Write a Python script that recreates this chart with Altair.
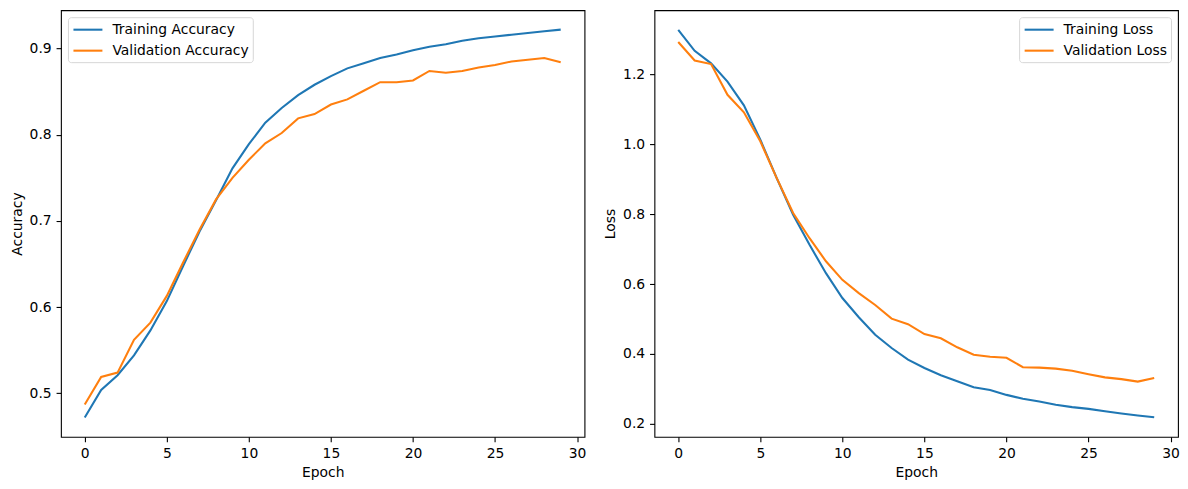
import altair as alt
import pandas as pd

FONT = "DejaVu Sans"

epochs = list(range(30))

train_acc = [0.472, 0.504, 0.521, 0.544, 0.573, 0.607, 0.648, 0.688, 0.724, 0.761,
             0.789, 0.814, 0.831, 0.846, 0.858, 0.868, 0.877, 0.883, 0.889, 0.893,
             0.898, 0.902, 0.905, 0.909, 0.912, 0.914, 0.916, 0.918, 0.920, 0.922]
val_acc = [0.487, 0.519, 0.524, 0.562, 0.582, 0.613, 0.652, 0.690, 0.725, 0.750,
           0.771, 0.790, 0.802, 0.819, 0.824, 0.835, 0.841, 0.851, 0.861, 0.861,
           0.863, 0.874, 0.872, 0.874, 0.878, 0.881, 0.885, 0.887, 0.889, 0.884]
train_loss = [1.327, 1.267, 1.231, 1.179, 1.111, 1.013, 0.903, 0.798, 0.712, 0.631,
              0.560, 0.505, 0.455, 0.417, 0.384, 0.360, 0.339, 0.322, 0.305, 0.297,
              0.283, 0.272, 0.264, 0.255, 0.248, 0.243, 0.236, 0.230, 0.224, 0.219]
val_loss = [1.292, 1.239, 1.229, 1.141, 1.091, 1.008, 0.903, 0.803, 0.731, 0.665,
            0.612, 0.574, 0.540, 0.501, 0.485, 0.457, 0.445, 0.419, 0.398, 0.392,
            0.389, 0.362, 0.361, 0.358, 0.352, 0.342, 0.333, 0.328, 0.321, 0.331]

acc_names = ["Training Accuracy", "Validation Accuracy"]
loss_names = ["Training Loss", "Validation Loss"]
colors = ["#1f77b4", "#ff7f0e"]
x_ticks = [0, 5, 10, 15, 20, 25, 30]
acc_ticks = [0.5, 0.6, 0.7, 0.8, 0.9]
loss_ticks = [0.2, 0.4, 0.6, 0.8, 1.0, 1.2]

acc_df = pd.DataFrame({
    "Epoch": epochs * 2,
    "value": train_acc + val_acc,
    "series": [acc_names[0]] * 30 + [acc_names[1]] * 30,
})
loss_df = pd.DataFrame({
    "Epoch": epochs * 2,
    "value": train_loss + val_loss,
    "series": [loss_names[0]] * 30 + [loss_names[1]] * 30,
})

# line symbol ~29px long drawn in a 14px legend slot
LINE_SYMBOL = "M-2.07,0H2.07"


def panel(df, ydomain, ytitle, names, yticks, orient):
    return alt.Chart(df).mark_line(strokeWidth=2.08).encode(
        x=alt.X("Epoch:Q",
                scale=alt.Scale(domain=[-1.45, 30.45], nice=False, zero=False),
                axis=alt.Axis(title="Epoch", values=x_ticks, format="d")),
        y=alt.Y("value:Q",
                scale=alt.Scale(domain=ydomain, nice=False, zero=False),
                axis=alt.Axis(title=ytitle, values=yticks, format=".1f")),
        color=alt.Color("series:N",
                        scale=alt.Scale(domain=names, range=colors),
                        legend=alt.Legend(
                            title=None, orient=orient, offset=7, padding=4,
                            fillColor="white", strokeColor="#d6d6d6",
                            cornerRadius=3, symbolType=LINE_SYMBOL,
                            symbolSize=196, symbolStrokeWidth=2.08,
                            symbolOffset=7.5,
                            labelFont=FONT, labelFontSize=13.9,
                            labelColor="black", labelOffset=16,
                            rowPadding=5, labelLimit=0)),
    ).properties(width=524, height=427)


left = panel(acc_df, [0.4495, 0.9445], "Accuracy", acc_names, acc_ticks, "top-left")
right = panel(loss_df, [0.163, 1.383], "Loss", loss_names, loss_ticks, "top-right")

chart = alt.hconcat(left, right, spacing=16).resolve_scale(
    color="independent"
).properties(
    padding={"left": 1, "top": 1, "right": 0, "bottom": 0}
).configure_view(
    stroke="black", strokeWidth=1.1
).configure_axis(
    domain=False, grid=False,
    labelFont=FONT, labelFontSize=13.9, labelColor="black", labelPadding=4.9,
    titleFont=FONT, titleFontSize=13.9, titleFontWeight="normal",
    titleColor="black", titlePadding=5,
    tickColor="black", tickSize=4.9, tickWidth=1.1,
)

chart.save("out.html", embed_options={"renderer": "svg", "actions": False})
